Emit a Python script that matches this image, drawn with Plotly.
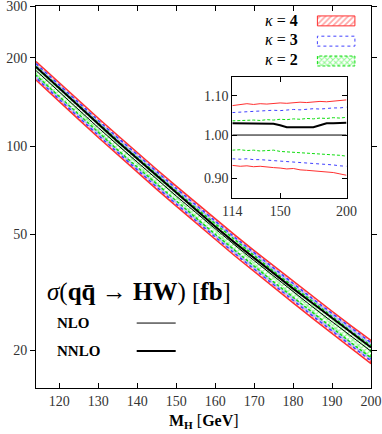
import plotly.graph_objects as go
import numpy as np

# Higgs mass grid [GeV]
mass = [114, 120, 125, 130, 135, 140, 145, 150, 155, 160,
        165, 170, 175, 180, 185, 190, 195, 200]

# NLO cross section sigma(qq -> HW) [fb]
sigma_nlo = [181.1, 152.7, 132.7, 115.5, 100.7, 88.0, 77.0, 67.5, 59.3, 52.1,
             45.9, 40.6, 35.9, 31.8, 28.2, 25.1, 22.3, 19.9]

# ratios to NLO (inset)
nnlo_ratio = [1.029, 1.029, 1.029, 1.029, 1.028, 1.028, 1.028, 1.024, 1.019, 1.019,
              1.019, 1.019, 1.019, 1.024, 1.029, 1.029, 1.029, 1.030]
k4_up = [1.074, 1.076, 1.079, 1.077, 1.079, 1.078, 1.080, 1.081, 1.080, 1.082,
         1.083, 1.082, 1.084, 1.085, 1.084, 1.086, 1.088, 1.089]
k4_lo = [0.929, 0.927, 0.928, 0.926, 0.927, 0.925, 0.924, 0.923, 0.921, 0.922,
         0.919, 0.918, 0.917, 0.916, 0.914, 0.913, 0.910, 0.907]
k3_up = [1.056, 1.057, 1.059, 1.058, 1.060, 1.060, 1.062, 1.061, 1.063, 1.064,
         1.063, 1.065, 1.066, 1.065, 1.067, 1.068, 1.068, 1.070]
k3_lo = [0.944, 0.943, 0.944, 0.942, 0.942, 0.941, 0.940, 0.939, 0.938, 0.937,
         0.936, 0.935, 0.934, 0.932, 0.932, 0.930, 0.928, 0.927]
k2_up = [1.035, 1.036, 1.035, 1.037, 1.036, 1.038, 1.037, 1.039, 1.038, 1.040,
         1.039, 1.041, 1.040, 1.042, 1.041, 1.043, 1.042, 1.044]
k2_lo = [0.964, 0.965, 0.963, 0.964, 0.962, 0.963, 0.964, 0.961, 0.960, 0.959,
         0.958, 0.958, 0.956, 0.955, 0.955, 0.953, 0.952, 0.950]

x_ticks = [120, 130, 140, 150, 160, 170, 180, 190, 200]
y_ticks = [20, 50, 100, 200, 300]
inset_x_ticks = [114, 150, 200]
inset_y_ticks = [0.90, 1.00, 1.10]

FONT = "Liberation Serif"
RED, BLUE, GREEN = "#ff3030", "#4040ff", "#10dd10"

bands = [
    # label, up, lo, line color, line dash, pattern shape, pattern color, solidity
    ("4", k4_up, k4_lo, RED, "solid", "/", "#ff5050", 0.55),
    ("3", k3_up, k3_lo, BLUE, "dot", ".", "#7a7aff", 0.9),
    ("2", k2_up, k2_lo, GREEN, "3px,2px", "x", "#20f020", 0.5),
]

m = np.array(mass)
nlo = np.array(sigma_nlo)

fig = go.Figure()

# main plot bands
for lab, up, lo, col, dash, shape, pcol, sol in bands:
    y_up = nlo * np.array(up)
    y_lo = nlo * np.array(lo)
    fig.add_trace(go.Scatter(
        x=np.concatenate([m, m[::-1]]), y=np.concatenate([y_up, y_lo[::-1]]),
        mode="lines", fill="toself", fillcolor="white",
        fillpattern=dict(shape=shape, fgcolor=pcol, bgcolor="white",
                         size=4, solidity=sol),
        line=dict(color=col, width=1.5, dash=dash), hoverinfo="skip",
        xaxis="x", yaxis="y", showlegend=False))

fig.add_trace(go.Scatter(x=m, y=nlo, mode="lines",
                         line=dict(color="black", width=1), showlegend=False))
fig.add_trace(go.Scatter(x=m, y=nlo * np.array(nnlo_ratio), mode="lines",
                         line=dict(color="black", width=2), showlegend=False))

# inset: ratios
for lab, up, lo, col, dash, shape, pcol, sol in bands:
    for r in (up, lo):
        fig.add_trace(go.Scatter(x=m, y=r, mode="lines", xaxis="x2", yaxis="y2",
                                 line=dict(color=col, width=1, dash=dash),
                                 showlegend=False))
fig.add_trace(go.Scatter(x=[114, 200], y=[1.0, 1.0], mode="lines", xaxis="x2", yaxis="y2",
                         line=dict(color="black", width=1), showlegend=False))
fig.add_trace(go.Scatter(x=m, y=nnlo_ratio, mode="lines", xaxis="x2", yaxis="y2",
                         line=dict(color="black", width=2), showlegend=False))

# legend swatches on an invisible overlay axis (0..1 over the main frame)
boxes = [(0.974, 0.948), (0.921, 0.895), (0.869, 0.843)]
x0, x1 = 0.840, 0.952
for (lab, up, lo, col, dash, shape, pcol, sol), (yt, yb) in zip(bands, boxes):
    fp = dict(shape=shape, fgcolor=pcol, bgcolor="white", size=4, solidity=0.45)
    if shape == ".":
        fp = dict(shape="", bgcolor="white")
    fig.add_trace(go.Scatter(
        x=[x0, x1, x1, x0, x0], y=[yb, yb, yt, yt, yb], mode="lines",
        fill="toself", fillcolor="white", fillpattern=fp,
        line=dict(color=col, width=1, dash=dash), xaxis="x3", yaxis="y3",
        hoverinfo="skip", showlegend=False))

axis_common = dict(showline=True, linecolor="black", linewidth=1, mirror="ticks",
                   showgrid=False, zeroline=False, ticklen=5, tickcolor="black",
                   automargin=False, ticklabeloverflow="allow",
                   tickfont=dict(family=FONT, size=14, color="#333"))

fig.update_layout(
    width=382, height=434,
    margin=dict(l=36, r=11, t=6, b=46),
    paper_bgcolor="white", plot_bgcolor="white",
    font=dict(family=FONT, color="black"),
    xaxis=dict(axis_common, domain=[0, 1], range=[114, 200], tickvals=x_ticks,
               ticks="inside", anchor="y"),
    yaxis=dict(axis_common, domain=[0, 1], type="log",
               range=[np.log10(14.9), np.log10(301)], tickvals=y_ticks,
               ticktext=[str(v) for v in y_ticks], ticks="outside", anchor="x"),
    xaxis2=dict(axis_common, domain=[0.586, 0.927], range=[114, 200],
                tickvals=inset_x_ticks, ticks="inside", anchor="y2"),
    yaxis2=dict(axis_common, domain=[0.497, 0.813], type="log",
                range=[np.log10(0.858), np.log10(1.150)], tickvals=inset_y_ticks,
                ticktext=["0.90", "1.00", "1.10"], ticks="inside", anchor="x2"),
    xaxis3=dict(range=[0, 1], visible=False, overlaying="x", anchor="y3"),
    yaxis3=dict(range=[0, 1], visible=False, overlaying="y", anchor="x3"),
)

# x axis title
fig.add_annotation(x=0.5, y=-0.088, xref="paper", yref="paper", showarrow=False,
                   text="<b>M</b><sub><b>H</b></sub> [<b>GeV</b>]",
                   font=dict(family=FONT, size=16), xanchor="center", yanchor="middle")

# kappa labels
for (lab, *_), yc in zip(bands, [0.963, 0.911, 0.859]):
    fig.add_annotation(x=0.733, y=yc, xref="paper", yref="paper", showarrow=False,
                       text=f"<i>κ</i> = <b>{lab}</b>", font=dict(family=FONT, size=16),
                       xanchor="center", yanchor="middle")

fig.add_annotation(x=0.028, y=0.252, xref="paper", yref="paper", showarrow=False,
                   text="<i>σ</i>(<b>qq̄</b> → <b>HW</b>) [<b>fb</b>]",
                   font=dict(family=FONT, size=25), xanchor="left", yanchor="middle")
for txt, yc, w in [("NLO", 0.170, 1), ("NNLO", 0.0969, 2)]:
    fig.add_annotation(x=0.058, y=yc, xref="paper", yref="paper", showarrow=False,
                       text=f"<b>{txt}</b>", font=dict(family=FONT, size=15),
                       xanchor="left", yanchor="middle")
    fig.add_shape(type="line", xref="paper", yref="paper", x0=0.3006, x1=0.417,
                  y0=yc, y1=yc, line=dict(color="black", width=w))

# page body margin would shift the figure by 8px
fig.write_html("out.html", config={"displayModeBar": False},
               post_script="document.body.style.margin='0';")
